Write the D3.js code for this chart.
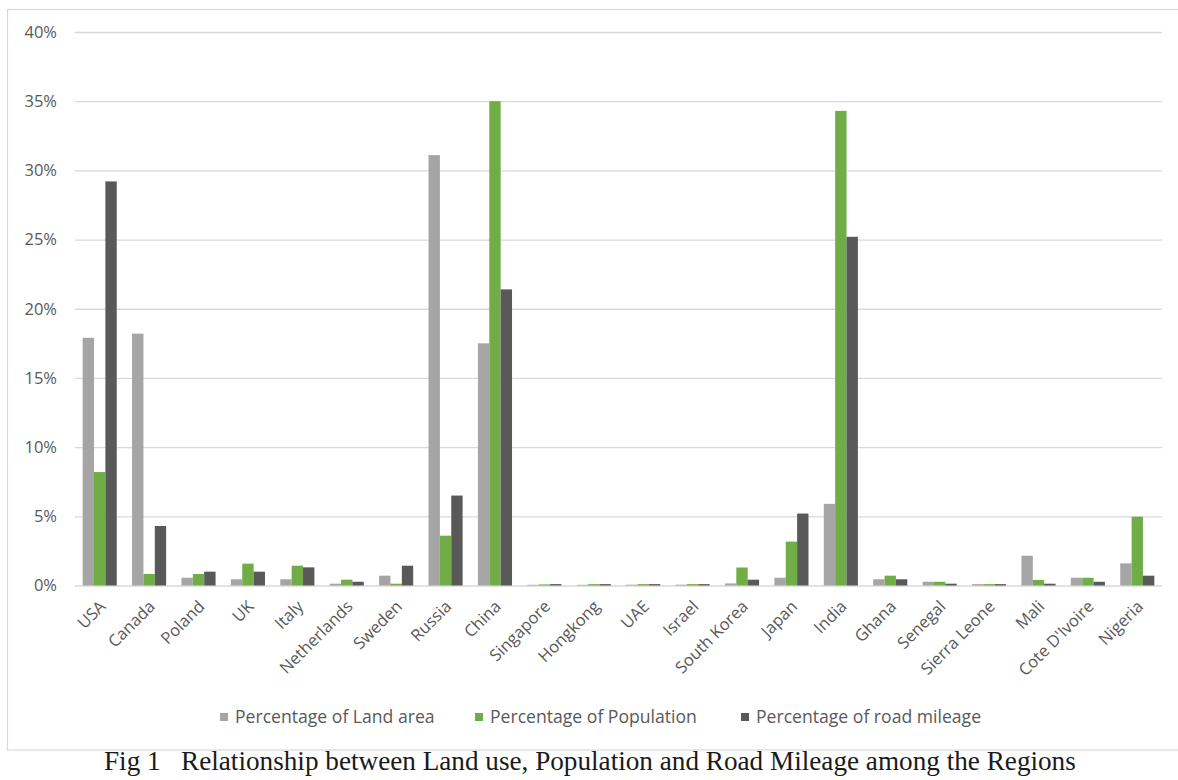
<!DOCTYPE html>
<html>
<head>
<meta charset="utf-8">
<script src="https://cdn.jsdelivr.net/npm/d3@7"></script>
<style>
  html, body { margin: 0; padding: 0; background: #fff; }
  svg { display: block; }
  .axis text { font-family: "Open Sans", "Noto Sans", sans-serif; fill: #595959; }
</style>
</head>
<body>
<svg id="chart" width="1178" height="780"></svg>
<script>
// Regions along the x axis
const regions = ["USA", "Canada", "Poland", "UK", "Italy", "Netherlands", "Sweden", "Russia",
  "China", "Singapore", "Hongkong", "UAE", "Israel", "South Korea", "Japan", "India",
  "Ghana", "Senegal", "Sierra Leone", "Mali", "Cote D'Ivoire", "Nigeria"];

// Shares (in %) per region
const landArea = [17.9, 18.2, 0.56, 0.45, 0.45, 0.13, 0.71, 31.1, 17.5, 0.05, 0.05, 0.06, 0.06,
  0.15, 0.56, 5.9, 0.45, 0.27, 0.1, 2.15, 0.56, 1.6];
const population = [8.2, 0.83, 0.83, 1.58, 1.43, 0.42, 0.13, 3.6, 35.0, 0.08, 0.1, 0.1, 0.1,
  1.3, 3.17, 34.3, 0.71, 0.27, 0.1, 0.4, 0.56, 4.97];
const roadMileage = [29.2, 4.3, 1.0, 1.0, 1.31, 0.27, 1.43, 6.5, 21.4, 0.1, 0.1, 0.1, 0.1,
  0.42, 5.2, 25.2, 0.45, 0.13, 0.1, 0.13, 0.27, 0.71];

const seriesNames = ["Percentage of Land area", "Percentage of Population", "Percentage of road mileage"];
const seriesColors = ["#a5a5a5", "#70ad47", "#595959"];
const yTicks = [0, 5, 10, 15, 20, 25, 30, 35, 40];

const seriesValues = [landArea, population, roadMileage];

const svg = d3.select("#chart");
const plot = { left: 75, right: 1162, top: 32, bottom: 585.5 };

// outer chart frame and caption separator
svg.append("rect")
  .attr("x", 7.5).attr("y", 9.5)
  .attr("width", 1180).attr("height", 740.5)
  .attr("fill", "none").attr("stroke", "#d9d9d9").attr("stroke-width", 1.2);

const x0 = d3.scaleBand()
  .domain(regions)
  .range([plot.left, plot.right])
  .paddingInner(0.31)
  .paddingOuter(0.155);

const x1 = d3.scaleBand()
  .domain(d3.range(seriesNames.length))
  .range([0, x0.bandwidth()]);

const y = d3.scaleLinear()
  .domain([0, 40])
  .range([plot.bottom, plot.top]);

// y axis with gridlines
const yAxis = svg.append("g")
  .attr("class", "axis")
  .attr("transform", `translate(${plot.left},0)`)
  .call(d3.axisLeft(y).tickValues(yTicks).tickFormat(d => d + "%")
    .tickSize(-(plot.right - plot.left)).tickPadding(18));
yAxis.select(".domain").remove();
yAxis.selectAll(".tick line").attr("stroke", "#d9d9d9").attr("stroke-width", 1.3);
yAxis.selectAll(".tick text").attr("font-size", 16.5);

// grouped bars
const groups = svg.append("g")
  .selectAll("g")
  .data(regions)
  .join("g")
  .attr("transform", d => `translate(${x0(d)},0)`);

groups.selectAll("rect")
  .data((d, i) => seriesValues.map((vals, s) => ({ s, v: vals[i] })))
  .join("rect")
  .attr("x", d => x1(d.s))
  .attr("width", x1.bandwidth())
  .attr("y", d => y(d.v))
  .attr("height", d => y(0) - y(d.v))
  .attr("fill", d => seriesColors[d.s]);

// x axis category labels
const xAxis = svg.append("g")
  .attr("class", "axis")
  .attr("transform", `translate(0,${plot.bottom})`)
  .call(d3.axisBottom(x0).tickSize(0).tickPadding(0));
xAxis.select(".domain").remove();
xAxis.selectAll(".tick text")
  .attr("font-size", 16.5)
  .attr("text-anchor", "end")
  .attr("dy", null)
  .attr("transform", "translate(7,22) rotate(-45)");

// legend
const legendX = [220, 475, 741];
const legend = svg.append("g")
  .selectAll("g")
  .data(seriesNames)
  .join("g")
  .attr("transform", (d, i) => `translate(${legendX[i]},717)`);
legend.append("rect")
  .attr("x", 0).attr("y", -4).attr("width", 8).attr("height", 8)
  .attr("fill", (d, i) => seriesColors[i]);
legend.append("text")
  .attr("x", 15).attr("dy", "0.35em")
  .attr("font-family", "\"Open Sans\", \"Noto Sans\", sans-serif")
  .attr("font-size", 17.6)
  .attr("fill", "#595959")
  .text(d => d);

// figure caption
svg.append("text")
  .attr("x", 104).attr("y", 770)
  .attr("font-family", "\"Liberation Serif\", \"Times New Roman\", serif")
  .attr("font-size", 27.2)
  .attr("fill", "#1a1a1a")
  .attr("xml:space", "preserve")
  .style("white-space", "pre")
  .text("Fig 1   Relationship between Land use, Population and Road Mileage among the Regions");
</script>
</body>
</html>
